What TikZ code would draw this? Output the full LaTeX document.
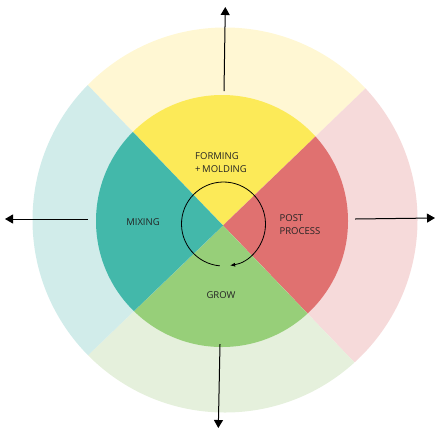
\documentclass[tikz,border=0pt]{standalone}
\usepackage{fontspec}
\setmainfont{Open Sans}
\usetikzlibrary{calc,arrows.meta}
\definecolor{lyel}{HTML}{FFF7D3}
\definecolor{lteal}{HTML}{D1ECEA}
\definecolor{lpink}{HTML}{F6DADA}
\definecolor{lgreen}{HTML}{E5F0DC}
\definecolor{dyel}{HTML}{FCEA58}
\definecolor{dteal}{HTML}{43B8AA}
\definecolor{dred}{HTML}{E07170}
\definecolor{dgreen}{HTML}{97CF79}
\definecolor{txt}{HTML}{242424}
\tikzset{
  lbl/.style={font=\fontsize{9.5}{12.5}\selectfont, text=txt, align=left, inner sep=0pt},
  outarrow/.style={line width=1pt, -{Triangle[length=8pt,width=9pt]}},
  cyc/.style={line width=0.8pt, -{Latex[length=5pt,width=4pt]}}
}
\begin{document}
\begin{tikzpicture}[x=1pt,y=-1pt]
\useasboundingbox (0,0) rectangle (435,429);
\coordinate (S) at (223,225.5);
\coordinate (A) at (132,131);
\coordinate (B) at (316,136);
\coordinate (C) at (307,313);
\coordinate (D) at (133,312);
\coordinate (OC) at (225,220);
\coordinate (IC) at (222,221);
% quadrants
\foreach \p/\q/\lc/\dc in {A/B/lyel/dyel, B/C/lpink/dred, C/D/lgreen/dgreen, D/A/lteal/dteal}{
  \begin{scope}
    \clip (S) -- ($(S)!4!(\p)$) -- ($(S)!4!(\q)$) -- cycle;
    \fill[\lc] (OC) circle[radius=192.5];
    \fill[\dc] (IC) circle[radius=126];
  \end{scope}
}
% labels
\node[lbl] (form) at (221,162.5) {FORMING\\+\,MOLDING};
\node[lbl] (mix) at (143,222) {MIXING};
\node[lbl] (post) at (300,224.5) {POST\\PROCESS};
\node[lbl] (grow) at (221,295) {GROW};
% cycle arrow
\coordinate (cc) at (223.5,224);
\draw[cyc] ($(cc)+(265:42 and -42)$) arc[start angle=-265, end angle=81, radius=42];
% outer arrows
\coordinate (t0) at (224,91); \coordinate (t1) at (225.3,7);
\coordinate (l0) at (88,219); \coordinate (l1) at (5,219);
\coordinate (r0) at (355,219); \coordinate (r1) at (435,218);
\coordinate (b0) at (220,344); \coordinate (b1) at (218.3,428);
\draw[outarrow] (t0) -- (t1);
\draw[outarrow] (l0) -- (l1);
\draw[outarrow] (r0) -- (r1);
\draw[outarrow] (b0) -- (b1);
\end{tikzpicture}
\end{document}
